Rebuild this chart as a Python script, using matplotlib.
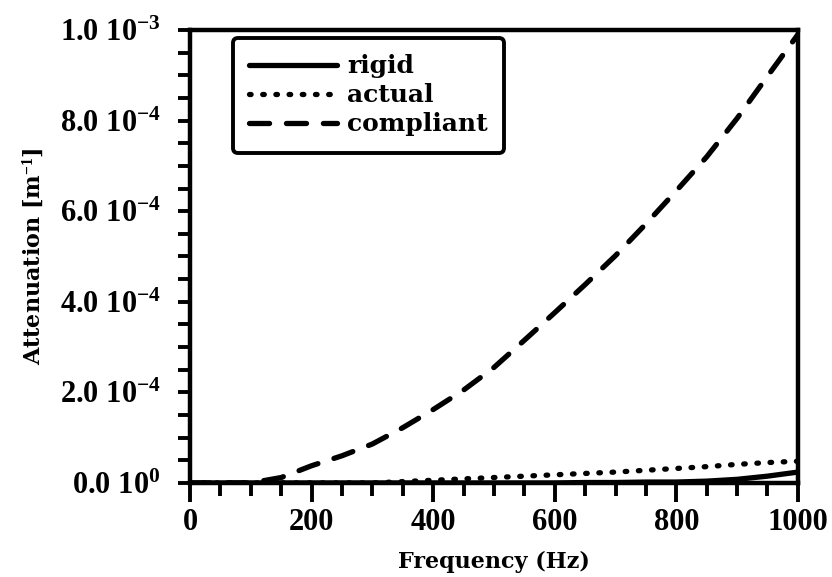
import matplotlib
matplotlib.use("Agg")
import matplotlib.pyplot as plt
from matplotlib.ticker import MultipleLocator, FixedLocator

plt.rcParams['font.family'] = ['Liberation Serif', 'DejaVu Serif']
plt.rcParams['font.weight'] = 'bold'
plt.rcParams['mathtext.fontset'] = 'custom'
plt.rcParams['mathtext.rm'] = 'Liberation Serif:bold'
plt.rcParams['mathtext.it'] = 'Liberation Serif:bold'
plt.rcParams['mathtext.bf'] = 'Liberation Serif:bold'

# frequency grid (Hz)
freq = [0, 50, 100, 150, 200, 250, 300, 350, 400, 450, 500,
        550, 600, 650, 700, 750, 800, 850, 900, 950, 1000]

# attenuation in units of 1e-4 1/m
rigid = [0, 0, 0, 0, 0, 0, 0, 0, 0, 0, 0,
         0, 0, 0.01, 0.01, 0.02, 0.02, 0.04, 0.08, 0.15, 0.24]
actual = [0, 0, 0, 0, 0, 0, 0, 0.03, 0.06, 0.09, 0.12,
          0.15, 0.18, 0.21, 0.24, 0.28, 0.32, 0.36, 0.41, 0.45, 0.48]
compliant = [0, 0, 0, 0.12, 0.38, 0.6, 0.86, 1.22, 1.62, 2.05, 2.55,
             3.15, 3.76, 4.38, 5.02, 5.72, 6.45, 7.2, 8.05, 8.98, 9.9]

ytick_vals = [0, 2, 4, 6, 8, 10]
ytick_labels = [r"0.0 10$^{0}$", r"2.0 10$^{-4}$", r"4.0 10$^{-4}$",
                r"6.0 10$^{-4}$", r"8.0 10$^{-4}$", r"1.0 10$^{-3}$"]

fig = plt.figure(figsize=(8.32, 5.77), dpi=100)
ax = fig.add_axes([0.2284, 0.163, 0.7306, 0.785])

lw = 3.8
ax.plot(freq, rigid, color='black', lw=lw, solid_capstyle='round', label='rigid')
ax.plot(freq, actual, color='black', lw=lw, linestyle=(0, (0.3, 2.2)),
        dash_capstyle='round', label='actual')
ax.plot(freq, compliant, color='black', lw=lw, linestyle=(0, (3.8, 3.2)),
        dash_capstyle='round', label='compliant')

ax.set_xlim(0, 1000)
ax.set_ylim(0, 10)
ax.xaxis.set_major_locator(MultipleLocator(200))
ax.xaxis.set_minor_locator(MultipleLocator(50))
ax.yaxis.set_major_locator(FixedLocator(ytick_vals))
ax.yaxis.set_minor_locator(MultipleLocator(0.5))
ax.set_yticklabels(ytick_labels)

for s in ax.spines.values():
    s.set_linewidth(3.2)
ax.tick_params(which='both', direction='out', width=2.8, labelsize=22,
               top=False, right=False)
ax.tick_params(axis='x', which='major', length=14, pad=4)
ax.tick_params(axis='x', which='minor', length=9)
ax.tick_params(axis='y', which='major', length=9, pad=12)
ax.tick_params(axis='y', which='minor', length=9)

label_font = dict(family='DejaVu Serif', fontweight='bold')
ax.set_xlabel('Frequency (Hz)', fontsize=16, labelpad=10, **label_font)
ax.set_ylabel(r'Attenuation [m$^{-1}$]', fontsize=16, labelpad=10, **label_font)

leg = ax.legend(loc='upper left', bbox_to_anchor=(0.071, 0.982),
                borderaxespad=0, prop=dict(family='DejaVu Serif', weight='bold', size=18),
                handlelength=3.5, handletextpad=0.4, labelspacing=0.2,
                borderpad=0.65, fancybox=True, framealpha=1)
leg.get_frame().set_edgecolor('black')
leg.get_frame().set_linewidth(2.8)

fig.savefig('out.png', dpi=100)
